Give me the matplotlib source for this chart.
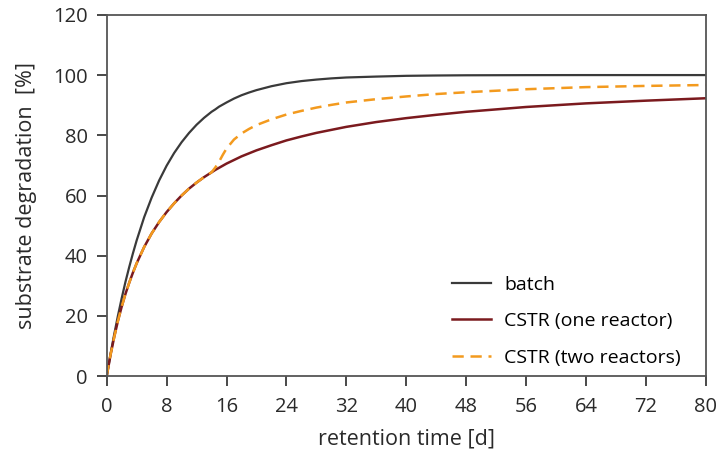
import matplotlib
matplotlib.use("Agg")
import matplotlib.pyplot as plt

plt.rcParams['font.family'] = ['Open Sans', 'DejaVu Sans']

# retention time [d]
t = [0, 0.5, 1, 1.5, 2, 2.5, 3, 3.5, 4, 5, 6, 7, 8, 9, 10, 11, 12, 13, 14, 14.5, 15, 15.5, 16,
     17, 18, 19, 20, 22, 24, 26, 28, 30, 32, 36, 40, 44, 48, 56, 64, 72, 80]

# substrate degradation [%]
batch = [0, 7.2, 13.9, 20.1, 25.9, 31.3, 36.2, 40.8, 45.1, 52.8, 59.3, 65.0, 69.9, 74.1, 77.7,
         80.8, 83.5, 85.8, 87.8, 88.6, 89.5, 90.2, 90.9, 92.2, 93.3, 94.2, 95.0, 96.3, 97.3,
         98.0, 98.5, 98.9, 99.2, 99.5, 99.75, 99.86, 99.93, 99.98, 100, 100, 100]
cstr_one = [0, 7.0, 13.0, 18.4, 23.1, 27.3, 31.0, 34.4, 37.5, 42.9, 47.4, 51.2, 54.5, 57.4, 60.0,
            62.3, 64.3, 66.1, 67.7, 68.5, 69.2, 69.9, 70.6, 71.8, 73.0, 74.0, 75.0, 76.7, 78.3,
            79.6, 80.8, 81.8, 82.8, 84.4, 85.7, 86.8, 87.8, 89.4, 90.6, 91.5, 92.3]
cstr_two = [0, 7.0, 13.0, 18.4, 23.1, 27.3, 31.0, 34.4, 37.5, 42.9, 47.4, 51.2, 54.5, 57.4, 60.0,
            62.3, 64.3, 66.1, 67.7, 69.3, 71.2, 73.5, 75.6, 78.6, 80.6, 82.1, 83.4, 85.3, 86.9,
            88.1, 89.2, 90.1, 90.9, 92.0, 92.9, 93.7, 94.3, 95.3, 96.0, 96.4, 96.7]

fig = plt.figure(figsize=(7.26, 4.5), dpi=100)
ax = fig.add_axes([0.147, 0.164, 0.825, 0.803])

ax.plot(t, batch, color='#3a3a3a', linewidth=1.6, label='batch')
ax.plot(t, cstr_one, color='#7b1a1e', linewidth=1.8, label='CSTR (one reactor)')
ax.plot(t, cstr_two, color='#f39a1e', linewidth=1.8, linestyle=(0, (4.5, 2.7)), label='CSTR (two reactors)')

ax.set_xlim(0, 80)
ax.set_ylim(0, 120)
ax.set_xticks(range(0, 81, 8))
ax.set_yticks(range(0, 121, 20))
ax.tick_params(direction='out', length=7, width=1.2, labelsize=14.5, colors='#2a2a2a')
ax.tick_params(axis='x', pad=8)
ax.tick_params(axis='y', pad=6.5)
for s in ax.spines.values():
    s.set_color('#555555')
    s.set_linewidth(1.3)

ax.set_xlabel('retention time [d]', fontsize=15.5, color='#2a2a2a', labelpad=8)
ax.set_ylabel('substrate degradation  [%]', fontsize=15.5, color='#2a2a2a', labelpad=12)

ax.legend(loc='lower right', bbox_to_anchor=(0.972, 0.005), frameon=False, fontsize=14,
          handlelength=2.05, labelspacing=0.95, borderaxespad=0, handletextpad=0.67)

fig.savefig('out.png', dpi=100)
